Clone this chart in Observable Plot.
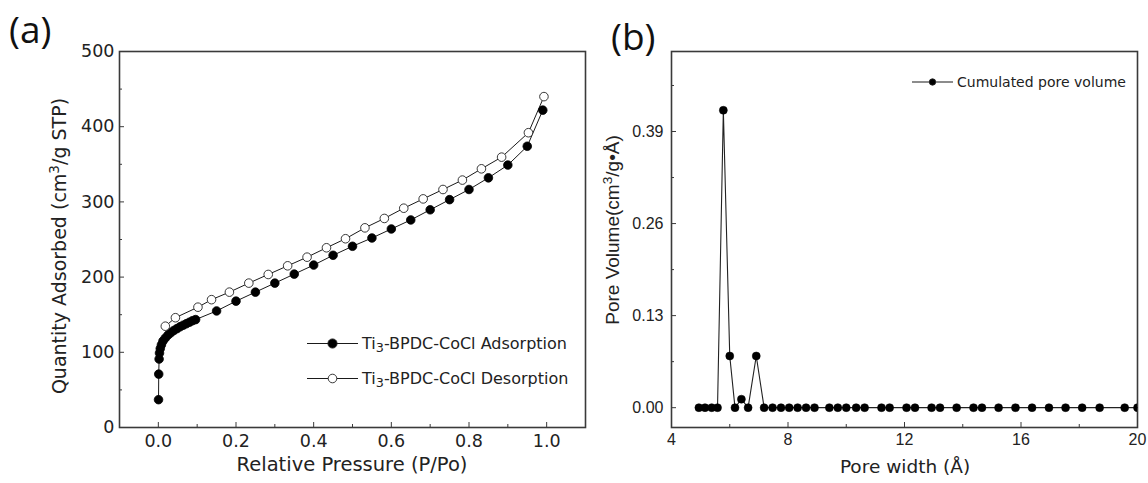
<!DOCTYPE html>
<html>
<head>
<meta charset="utf-8">
<script src="https://cdn.jsdelivr.net/npm/d3@7"></script>
<script src="https://cdn.jsdelivr.net/npm/@observablehq/plot@0.6"></script>
<style>
  html, body { margin: 0; padding: 0; background: #fff; }
  #wrap { position: relative; width: 1148px; height: 483px; overflow: hidden; font-family: "DejaVu Sans", sans-serif; }
  .panel { position: absolute; top: 0; }
  .leg { position: absolute; display: flex; align-items: center; color: #222; white-space: nowrap; }
  .leg svg { margin-right: 4px; }
  .leg sub { font-size: 0.8em; vertical-align: -0.25em; line-height: 0; }
</style>
</head>
<body>
<div id="wrap"></div>
<script>
// ---------- Panel (a): N2 isotherm ----------
const adsP = [0.0005, 0.001, 0.002, 0.003, 0.005, 0.008, 0.012, 0.018, 0.025, 0.032, 0.040, 0.048, 0.056, 0.064, 0.072, 0.080, 0.088, 0.096, 0.15, 0.20, 0.25, 0.30, 0.35, 0.40, 0.45, 0.50, 0.55, 0.60, 0.65, 0.70, 0.75, 0.80, 0.85, 0.90, 0.95, 0.99];
const adsQ = [37, 71, 91, 99, 105, 110, 115, 119, 123, 126, 129, 131.5, 134, 136, 138, 140, 142, 143.5, 155, 168, 180, 192, 204, 216, 229, 241, 252, 264, 276, 289.5, 303, 316.5, 332, 349, 374, 422];
const desP = [0.018, 0.044, 0.102, 0.137, 0.183, 0.233, 0.283, 0.333, 0.383, 0.433, 0.482, 0.532, 0.582, 0.632, 0.682, 0.733, 0.783, 0.832, 0.884, 0.953, 0.993];
const desQ = [134.7, 146, 160, 170, 180, 192, 203.5, 215, 226.5, 239, 251, 265.5, 278, 291.6, 304, 316.5, 329, 344, 359.5, 392, 440];
const aXTicks = [0, 0.2, 0.4, 0.6, 0.8, 1.0];
const aXMinor = [0.1, 0.3, 0.5, 0.7, 0.9];
const aYTicks = [0, 100, 200, 300, 400, 500];
const aYMinor = [50, 150, 250, 350, 450];
const aSeries = ["Ti3-BPDC-CoCl Adsorption", "Ti3-BPDC-CoCl Desorption"];
const aXTitle = "Relative Pressure (P/Po)";
const aYTitle = "Quantity Adsorbed (cm<sup>3</sup>/g STP)";

// ---------- Panel (b): pore size distribution ----------
const poreW = [4.94, 5.15, 5.38, 5.58, 5.78, 6.0, 6.18, 6.40, 6.63, 6.91, 7.18, 7.47, 7.76, 8.04, 8.33, 8.62, 8.91, 9.42, 9.71, 10.0, 10.34, 10.63, 11.21, 11.49, 12.07, 12.36, 12.93, 13.22, 13.79, 14.37, 14.66, 15.23, 15.81, 16.38, 16.96, 17.53, 18.10, 18.70, 19.56, 20.0];
const poreV = [0, 0, 0, 0, 0.42, 0.073, 0, 0.012, 0, 0.073, 0, 0, 0, 0, 0, 0, 0, 0, 0, 0, 0, 0, 0, 0, 0, 0, 0, 0, 0, 0, 0, 0, 0, 0, 0, 0, 0, 0, 0, 0];
const bXTicks = [4, 8, 12, 16, 20];
const bXMinor = [6, 10, 14, 18];
const bYTicks = [0, 0.13, 0.26, 0.39];
const bYMinor = [0.065, 0.195, 0.325, 0.455];
const bSeries = "Cumulated pore volume";
const bXTitle = "Pore width (Å)";
const bYTitle = "Pore Volume(cm<sup>3</sup>/g•Å)";

const ads = adsP.map((p, i) => ({p, q: adsQ[i]}));
const des = desP.map((p, i) => ({p, q: desQ[i]}));
const pore = poreW.map((w, i) => ({w, v: poreV[i]}));

const ink = "#1a1a1a";
const frameColor = "#3a3a3a";

// layout
const H = 483, MT = 51, MB = 56;
const FH = H - MT - MB;           // frame height (px)
const AW = 600, AML = 119, AMR = 15, AFW = AW - AML - AMR;
const BW = 558, BML = 81, BMR = 11, BFW = BW - BML - BMR;
const major = 5, minor = 3;

function innerTicks(xs, ys, fw) {
  return [
    Plot.tickX(xs.major, {x: d => d, stroke: frameColor, strokeWidth: 1, insetTop: FH - major}),
    Plot.tickX(xs.minor, {x: d => d, stroke: frameColor, strokeWidth: 1, insetTop: FH - minor}),
    Plot.tickY(ys.major, {y: d => d, stroke: frameColor, strokeWidth: 1, insetRight: fw - major}),
    Plot.tickY(ys.minor, {y: d => d, stroke: frameColor, strokeWidth: 1, insetRight: fw - minor})
  ];
}

const plotA = Plot.plot({
  width: AW, height: H,
  marginLeft: AML, marginRight: AMR, marginTop: MT, marginBottom: MB,
  style: {fontFamily: "'DejaVu Sans', sans-serif", fontSize: "17.5px", color: "#222", background: "transparent"},
  x: {domain: [-0.1, 1.1]},
  y: {domain: [0, 500]},
  marks: [
    Plot.axisX(aXTicks, {tickSize: 0, tickPadding: 7, tickFormat: d3.format(".1f"), label: null}),
    Plot.axisY(aYTicks, {tickSize: 0, tickPadding: 5, label: null}),
    ...innerTicks({major: aXTicks, minor: aXMinor}, {major: aYTicks, minor: aYMinor}, AFW),
    Plot.frame({stroke: frameColor, strokeWidth: 1.6}),
    Plot.line(ads, {x: "p", y: "q", stroke: ink, strokeWidth: 1}),
    Plot.line(des, {x: "p", y: "q", stroke: ink, strokeWidth: 1}),
    Plot.dot(ads, {x: "p", y: "q", r: 4.3, fill: "#000", stroke: "#000", strokeWidth: 0.8}),
    Plot.dot(des, {x: "p", y: "q", r: 4.3, fill: "#fff", stroke: "#222", strokeWidth: 0.9})
  ]
});

const plotB = Plot.plot({
  width: BW, height: H,
  marginLeft: BML, marginRight: BMR, marginTop: MT, marginBottom: MB,
  style: {fontFamily: "'Liberation Sans', Arial, sans-serif", fontSize: "16px", color: "#222", background: "transparent"},
  x: {domain: [4, 20]},
  y: {domain: [-0.028, 0.503]},
  marks: [
    Plot.axisX(bXTicks, {tickSize: 0, tickPadding: 6, label: null}),
    Plot.axisY(bYTicks, {tickSize: 0, tickPadding: 8, tickFormat: d3.format(".2f"), label: null}),
    ...innerTicks({major: bXTicks, minor: bXMinor}, {major: bYTicks, minor: bYMinor}, BFW),
    Plot.frame({stroke: frameColor, strokeWidth: 1.6}),
    Plot.line(pore, {x: "w", y: "v", stroke: "#222", strokeWidth: 1.1}),
    Plot.dot(pore, {x: "w", y: "v", r: 4, fill: "#000", stroke: "#000", strokeWidth: 0.5, clip: true})
  ]
});

const wrap = document.getElementById("wrap");
const pa = document.createElement("div"); pa.className = "panel"; pa.style.left = "0px"; pa.appendChild(plotA); wrap.appendChild(pa);
const pb = document.createElement("div"); pb.className = "panel"; pb.style.left = "590px"; pb.appendChild(plotB); wrap.appendChild(pb);

function addText(html, css) {
  const d = document.createElement("div");
  d.innerHTML = html;
  Object.assign(d.style, {position: "absolute", whiteSpace: "nowrap", color: "#222", lineHeight: "1"}, css);
  wrap.appendChild(d);
  return d;
}
const supCss = "font-size:0.72em;vertical-align:0.5em;line-height:0";
const sup = s => s.replace("<sup>", `<sup style="${supCss}">`);

// axis titles
addText(aXTitle, {left: "352px", top: "465px", transform: "translate(-50%,-50%)", fontSize: "19.5px", fontFamily: "'DejaVu Sans', sans-serif"});
addText(sup(aYTitle), {left: "59px", top: "246px", transform: "translate(-50%,-50%) rotate(-90deg)", fontSize: "19px", fontFamily: "'DejaVu Sans', sans-serif"});
addText(bXTitle, {left: "905px", top: "467px", transform: "translate(-50%,-50%)", fontSize: "18.5px", fontFamily: "'DejaVu Sans', sans-serif"});
addText(sup(bYTitle), {left: "612px", top: "230px", transform: "translate(-50%,-50%) rotate(-90deg)", fontSize: "19px", fontFamily: "'Liberation Sans', Arial, sans-serif"});

// panel tags
addText("(a)", {left: "9px", top: "10px", fontSize: "37px", fontFamily: "'Open Sans', sans-serif", color: "#111"});
addText("(b)", {left: "611px", top: "17px", fontSize: "37px", fontFamily: "'Open Sans', sans-serif", color: "#111"});

// legends
function legendItem(left, top, filled, label, fontSize, r, lw) {
  const d = document.createElement("div");
  d.className = "leg";
  Object.assign(d.style, {left: left + "px", top: top + "px", fontSize: fontSize + "px", transform: "translateY(-50%)"});
  const svg = d3.create("svg").attr("width", lw).attr("height", 12);
  svg.append("line").attr("x1", 0).attr("x2", lw).attr("y1", 6).attr("y2", 6).attr("stroke", ink).attr("stroke-width", 1.1);
  svg.append("circle").attr("cx", lw / 2).attr("cy", 6).attr("r", r).attr("fill", filled ? "#000" : "#fff").attr("stroke", "#222").attr("stroke-width", 0.9);
  d.appendChild(svg.node());
  const s = document.createElement("span");
  s.innerHTML = label;
  d.appendChild(s);
  wrap.appendChild(d);
}
const fmtSub = s => s.replace("Ti3", "Ti<sub>3</sub>");
legendItem(307, 343, true, fmtSub(aSeries[0]), 16, 4.6, 51);
legendItem(307, 378, false, fmtSub(aSeries[1]), 16, 4.3, 51);
legendItem(912, 82, true, bSeries, 14, 3.2, 41);
</script>
</body>
</html>
